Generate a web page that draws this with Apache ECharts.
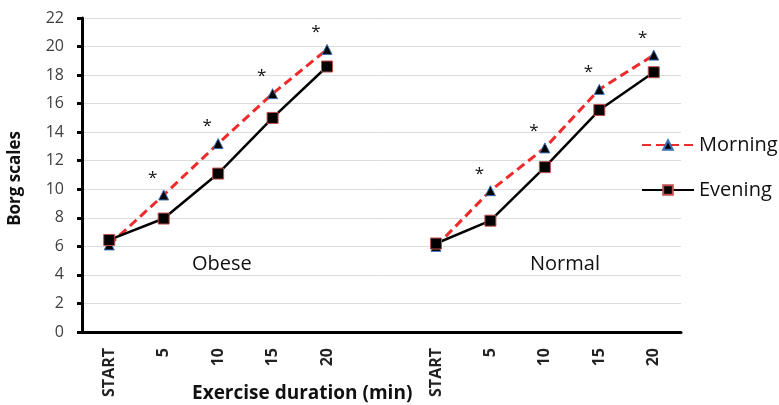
<!DOCTYPE html>
<html>
<head>
<meta charset="utf-8">
<script src="https://cdn.jsdelivr.net/npm/echarts@6/dist/echarts.min.js"></script>
<style>
  html, body { margin: 0; padding: 0; background: #fff; }
  #chart { width: 779px; height: 405px; }
</style>
</head>
<body>
<div id="chart"></div>
<script>
// x categories: two groups (Obese, Normal) with an empty slot between
const categories = ['START', '5', '10', '15', '20', '', 'START', '5', '10', '15', '20']
const morning = [6.1, 9.6, 13.2, 16.7, 19.8, null, 6.0, 9.9, 12.9, 17.0, 19.4]
const evening = [6.45, 7.95, 11.1, 15.0, 18.6, null, 6.2, 7.8, 11.55, 15.55, 18.2]
// asterisk marks (significant difference) on the morning points
const stars = ['', '*', '*', '*', '*', '', '', '*', '*', '*', '*']
const yTicks = { min: 0, max: 22, interval: 2 }

const font = 'Open Sans'

const chart = echarts.init(document.getElementById('chart'))

chart.setOption({
    animation: false,
    textStyle: { fontFamily: font },
    grid: { left: 82, right: 98, top: 18, bottom: 73 },
    legend: {
        orient: 'vertical',
        left: 636, top: 130,
        itemWidth: 52, itemHeight: 12,
        itemGap: 25,
        textStyle: { fontSize: 20, color: '#111', fontFamily: font },
        data: ['Morning', 'Evening']
    },
    xAxis: {
        type: 'category',
        data: categories,
        axisLine: { lineStyle: { color: '#000', width: 3 } },
        axisTick: { length: 5, lineStyle: { color: '#000', width: 3 } },
        axisLabel: { rotate: 90, fontSize: 16, fontWeight: 'bold', color: '#222', margin: 16 }
    },
    yAxis: {
        type: 'value',
        min: yTicks.min, max: yTicks.max, interval: yTicks.interval,
        axisLine: { show: true, lineStyle: { color: '#000', width: 3 } },
        axisTick: { show: true, length: 5, lineStyle: { color: '#000', width: 3 } },
        axisLabel: { fontSize: 16, color: '#404040', margin: 18 },
        splitLine: { lineStyle: { color: '#dcdcdc', width: 1 } }
    },
    series: [
        {
            name: 'Morning',
            type: 'line',
            data: morning,
            z: 3,
            symbol: 'triangle',
            symbolSize: 10,
            lineStyle: { color: '#ee2a2a', width: 3, type: [9, 5] },
            itemStyle: { color: '#000', borderColor: '#3b6fb6', borderWidth: 1 },
            label: {
                show: true,
                position: 'top',
                offset: [-11, 2],
                fontSize: 17,
                color: '#111',
                formatter: p => stars[p.dataIndex]
            }
        },
        {
            name: 'Evening',
            type: 'line',
            data: evening,
            z: 4,
            symbol: 'rect',
            symbolSize: 11,
            lineStyle: { color: '#000', width: 2.5 },
            itemStyle: { color: '#000', borderColor: '#c0504d', borderWidth: 1 }
        }
    ],
    graphic: [
        { type: 'text', left: 192, top: 384, style: { text: 'Exercise duration (min)', font: 'bold 19px "Open Sans"', fill: '#111' } },
        { type: 'text', left: 7, top: 131, rotation: Math.PI / 2, style: { text: 'Borg scales', font: 'bold 17px "Open Sans"', fill: '#111' } },
        { type: 'text', left: 192, top: 254, style: { text: 'Obese', font: '20px "Open Sans"', fill: '#111' } },
        { type: 'text', left: 530, top: 254, style: { text: 'Normal', font: '20px "Open Sans"', fill: '#111' } }
    ]
})
</script>
</body>
</html>
